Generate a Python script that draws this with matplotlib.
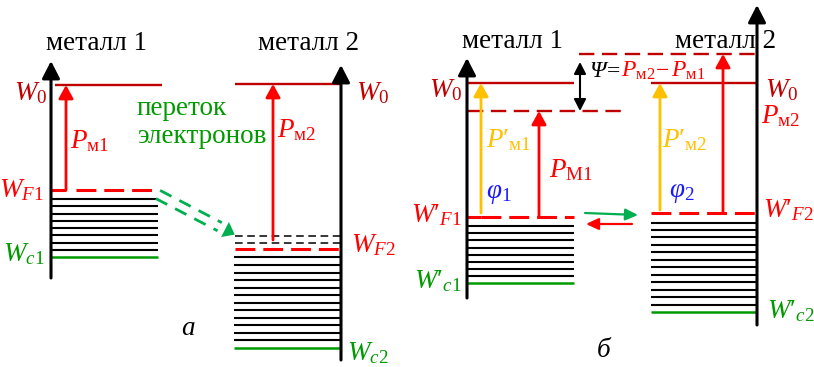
import matplotlib.pyplot as plt
from matplotlib.patches import Polygon

plt.rcParams["font.family"] = ["Liberation Serif", "DejaVu Serif"]
plt.rcParams["mathtext.fontset"] = "custom"
plt.rcParams["mathtext.rm"] = "Liberation Serif"
plt.rcParams["mathtext.it"] = "Liberation Serif:italic"
plt.rcParams["mathtext.bf"] = "Liberation Serif:bold"

# colours
RED = "#ff0000"
DARKRED = "#c00000"
GREEN = "#009a00"
GREEN_ARROW = "#00b050"
YELLOW = "#ffc000"
BLUE = "#1a1aff"
FS = 19.5

# energy levels, picture units (y grows downwards)
# panel a
a_x1, a_x2 = 51, 341                  # energy axes of metal 1 and 2
a_w0 = [85, 84]                        # vacuum level W0
a_wf1 = 190                            # Fermi level of metal 1
a_wf2 = 249                            # Fermi level of metal 2
a_wf2_old = [236, 243]                 # empty states before contact
a_wc = [257, 348]                      # conduction band bottoms
a_bands1 = [199, 206, 214, 221, 228, 235, 243, 250]
a_bands2 = [257, 265, 273, 280, 288, 295, 303, 310, 318, 325, 333, 340]

# panel b
b_x1, b_x2 = 467, 757
b_w0 = 83
b_vac1 = 111                           # shifted vacuum level near metal 1
b_vac2 = 54                            # shifted vacuum level near metal 2
b_wf = [217, 213]
b_wc = [283, 312]
b_bands1 = [226, 233, 240, 248, 255, 262, 269, 276]
b_bands2 = [223, 230, 237, 245, 252, 260, 267, 275, 282, 290, 297, 305]


fig = plt.figure(figsize=(8.14, 3.67), dpi=100)
ax = fig.add_axes([0, 0, 1, 1])
ax.set_xlim(0, 814)
ax.set_ylim(367, 0)
ax.axis("off")


def hline(x0, x1, y, color="k", lw=1.5, dashes=None):
    line, = ax.plot([x0, x1], [y, y], color=color, lw=lw, solid_capstyle="butt")
    if dashes:
        line.set_dashes(dashes)
        line.set_dash_capstyle("butt")


def arrow(x0, y0, x1, y1, color, lw=2.0, hl=8.0, hw=4.4, style="-|>"):
    ax.annotate("", xy=(x1, y1), xytext=(x0, y0),
                arrowprops=dict(arrowstyle=f"{style},head_length={hl},head_width={hw}",
                                color=color, lw=lw, shrinkA=0, shrinkB=0,
                                mutation_scale=1))


def energy_axis(x, y0, y1):
    arrow(x, y0, x, y1, "k", lw=2.2, hl=10.5, hw=5.4)


def label(x, y, s, color="k", ha="left", size=FS, **kw):
    return ax.text(x, y, s, color=color, ha=ha, va="baseline", fontsize=size, **kw)


def label_row(x, y, parts, size):
    """Put coloured pieces of one formula one after another."""
    renderer = fig.canvas.get_renderer()
    for s, color, gap, kw in parts:
        t = label(x, y, s, color=color, size=size, **kw)
        x = t.get_window_extent(renderer).x1 + gap


# ---------------- panel a ----------------
energy_axis(a_x1, 278, 61)
energy_axis(a_x2, 360, 65)

for y in a_bands1:
    hline(a_x1, 158, y, lw=1.5)
for y in a_bands2:
    hline(234, a_x2, y, lw=1.5)
hline(a_x1, 158, a_wc[0], color=GREEN, lw=1.8)
hline(234, a_x2, a_wc[1], color=GREEN, lw=1.8)

hline(55, 162, a_w0[0], color=DARKRED, lw=1.7)
hline(235, a_x2, a_w0[1], color=DARKRED, lw=1.7)

hline(a_x1, 66, a_wf1, color=RED, lw=2.2)
hline(76, 158, a_wf1, color=RED, lw=2.2, dashes=(6.5, 2.6))
for y in a_wf2_old:
    hline(235, a_x2, y, lw=1.1, dashes=(5, 3))
hline(235, a_x2, a_wf2, color=RED, lw=2.2, dashes=(6.5, 2.6))

arrow(66, a_wf1, 66, a_w0[0], RED)
arrow(273, 240, 273, a_w0[1], RED)

# electrons flowing from metal 1 to metal 2
flow_start = (158, 194.5)
flow_end = (225, 229.5)
dx, dy = flow_end[0] - flow_start[0], flow_end[1] - flow_start[1]
norm = (dx ** 2 + dy ** 2) ** 0.5
ux, uy = dx / norm, dy / norm
px, py = -uy, ux
for off in (-4.6, 4.6):
    line, = ax.plot([flow_start[0] + off * px, flow_end[0] - 6 * ux + off * px],
                    [flow_start[1] + off * py, flow_end[1] - 6 * uy + off * py],
                    color=GREEN_ARROW, lw=2.0)
    line.set_dashes((4.6, 3.2))
head = [(flow_end[0] + 8.5 * px, flow_end[1] + 8.5 * py),
        (flow_end[0] - 8.5 * px, flow_end[1] - 8.5 * py),
        (flow_end[0] + 11 * ux, flow_end[1] + 11 * uy)]
ax.add_patch(Polygon(head, closed=True, color=GREEN_ARROW, lw=0))

label(97, 50, "металл 1", ha="center")
label(309, 50, "металл 2", ha="center")
label(47, 100, "$W_0$", color=DARKRED, ha="right")
label(70, 148, r"$P_{\mathrm{м1}}$", color=RED)
label(44, 197, r"$W_{F1}$", color=RED, ha="right")
label(44, 261, r"$W_{c1}$", color=GREEN, ha="right")
label(137, 115, "переток", color=GREEN)
label(137, 143, "электронов", color=GREEN)
label(356, 100, "$W_0$", color=DARKRED)
label(277, 137, r"$P_{\mathrm{м2}}$", color=RED)
label(351, 252, r"$W_{F2}$", color=RED)
label(347, 360, r"$W_{c2}$", color=GREEN)
label(188, 335, "а", ha="center", style="italic")

# ---------------- panel b ----------------
energy_axis(b_x1, 298, 58)
energy_axis(b_x2, 325, 5)

for y in b_bands1:
    hline(b_x1, 574, y, lw=1.5)
for y in b_bands2:
    hline(651, b_x2, y, lw=1.5)
hline(b_x1, 574, b_wc[0], color=GREEN, lw=1.8)
hline(651, b_x2, b_wc[1], color=GREEN, lw=1.8)

hline(b_x1, 574, b_w0, color=DARKRED, lw=1.7)
hline(651, b_x2, b_w0, color=DARKRED, lw=1.7)
hline(468, 626, b_vac1, color=DARKRED, lw=1.7, dashes=(6.5, 3.2))
hline(579, b_x2, b_vac2, color=DARKRED, lw=1.7, dashes=(6.5, 3.2))

hline(b_x1, 481, b_wf[0], color=RED, lw=2.2)
hline(481, 574, b_wf[0], color=RED, lw=2.2, dashes=(6.5, 2.6))
hline(651, b_x2, b_wf[1], color=RED, lw=2.2, dashes=(6.5, 2.6))

arrow(481, b_wf[0] - 4, 481, b_w0, YELLOW)
arrow(660, b_wf[1] - 3, 660, b_w0, YELLOW)
arrow(539, b_wf[0], 539, b_vac1, RED)
arrow(723, b_wf[1], 723, b_vac2, RED)

# contact potential difference
arrow(580, b_vac1, 580, 62, "k", lw=1.5, hl=7, hw=3.6, style="<|-|>")

# electron exchange at equilibrium
arrow(585, 213, 638, 215, GREEN_ARROW, lw=1.6, hl=7.5, hw=3.5)
arrow(632, 224, 586, 224, RED, lw=1.6, hl=7.5, hw=3.5)

label(512, 48, "металл 1", ha="center")
label(726, 48, "металл 2", ha="center")
label(462, 97, "$W_0$", color=DARKRED, ha="right")
label(765, 97, "$W_0$", color=DARKRED)
label(761, 123, r"$P_{\mathrm{м2}}$", color=RED)
label(486, 147, "$P\u2032_{\\mathrm{м1}}$", color=YELLOW)
label(662, 147, "$P\u2032_{\\mathrm{м2}}$", color=YELLOW)
label(486, 198, r"$\varphi_1$", color=BLUE)
label(669, 197, r"$\varphi_2$", color=BLUE)
label(549, 177, r"$P_{\mathrm{М1}}$", color=RED)
label(462, 222, "$W\u2032_{F1}$", color=RED, ha="right")
label(462, 288, "$W\u2032_{c1}$", color=GREEN, ha="right")
label(763, 217, "$W\u2032_{F2}$", color=RED)
label(767, 318, "$W\u2032_{c2}$", color=GREEN)
label_row(589, 77, [
    ("Ψ", "k", 1, {"style": "italic"}),
    ("=", "k", 1, {}),
    (r"$P_{\mathrm{м2}}$", RED, 1, {}),
    ("\u2212", RED, 1, {}),
    (r"$P_{\mathrm{м1}}$", RED, 0, {}),
], size=17)
label(604, 357, "б", ha="center", style="italic")

fig.savefig("out.png", dpi=100)
